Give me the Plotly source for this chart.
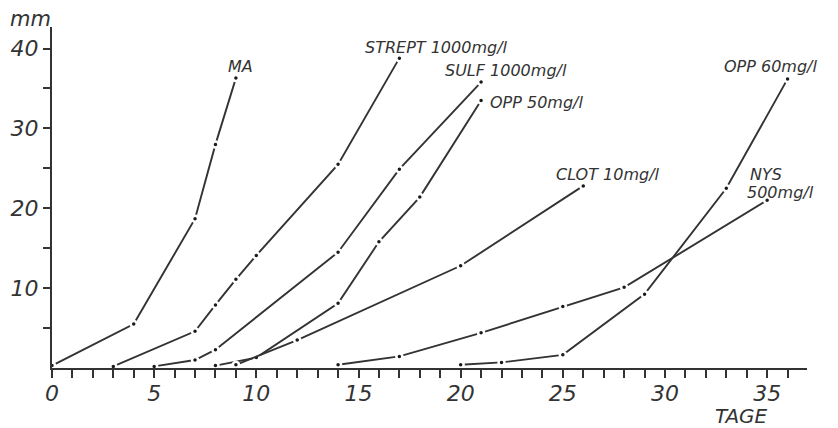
import plotly.graph_objects as go

# Days (TAGE) and growth in mm for each treatment
ma_days = [0, 4, 7, 8, 9]
ma_mm = [0.3, 5.5, 18.7, 28.0, 36.3]

strept_days = [3, 7, 8, 9, 10, 14, 17]
strept_mm = [0.2, 4.6, 7.9, 11.1, 14.1, 25.5, 38.8]

sulf_days = [5, 7, 8, 14, 17, 21]
sulf_mm = [0.2, 1.0, 2.3, 14.5, 24.9, 35.8]

opp50_days = [8, 10, 14, 16, 18, 21]
opp50_mm = [0.3, 1.3, 8.1, 15.8, 21.4, 33.5]

clot_days = [9, 12, 20, 26]
clot_mm = [0.4, 3.5, 12.8, 22.8]

nys_days = [14, 17, 21, 25, 28, 35]
nys_mm = [0.4, 1.45, 4.4, 7.7, 10.1, 21.0]

opp60_days = [20, 22, 25, 29, 33, 36]
opp60_mm = [0.4, 0.7, 1.65, 9.25, 22.5, 36.2]

series = [
    ("MA", ma_days, ma_mm),
    ("STREPT 1000mg/l", strept_days, strept_mm),
    ("SULF 1000mg/l", sulf_days, sulf_mm),
    ("OPP 50mg/l", opp50_days, opp50_mm),
    ("CLOT 10mg/l", clot_days, clot_mm),
    ("NYS 500mg/l", nys_days, nys_mm),
    ("OPP 60mg/l", opp60_days, opp60_mm),
]

x_ticks = list(range(0, 37))
x_ticklabels = [str(v) if v % 5 == 0 else "" for v in x_ticks]
y_ticks = [5, 10, 15, 20, 25, 30, 35, 40]
y_ticklabels = [str(v) if v % 10 == 0 else "" for v in y_ticks]

# label annotations: (text, x, y)
labels = [
    ("MA", 8.5, 37.7),
    ("STREPT 1000mg/l", 15.2, 40.1),
    ("SULF 1000mg/l", 19.13, 37.3),
    ("OPP 50mg/l", 21.35, 33.3),
    ("CLOT 10mg/l", 24.55, 24.2),
    ("OPP 60mg/l", 32.8, 37.8),
    ("NYS", 34.08, 24.2),
    ("500mg/l", 33.9, 21.95),
]

INK = "#333333"
FONT = "DejaVu Sans"

fig = go.Figure()
for name, xs, ys in series:
    fig.add_trace(go.Scatter(
        x=xs, y=ys, mode="lines+markers", name=name,
        line=dict(color="#333333", width=1.9),
        marker=dict(size=6, color="#1a1a1a", line=dict(color="white", width=2.5)),
        showlegend=False, cliponaxis=False,
    ))

for text, x, y in labels:
    fig.add_annotation(x=x, y=y, text=text, showarrow=False, xanchor="left", yanchor="middle",
                       font=dict(family=FONT, size=16, color=INK, style="italic"))

fig.add_annotation(xref="paper", yref="paper", x=0.9135, y=-0.1417, text="TAGE", showarrow=False,
                   xanchor="center", yanchor="middle",
                   font=dict(family=FONT, size=20, color=INK, style="italic"))
fig.add_annotation(xref="paper", yref="paper", x=-0.058, y=1.0226, text="mm", showarrow=False,
                   xanchor="left", yanchor="middle",
                   font=dict(family=FONT, size=21, color=INK, style="italic"))

fig.update_layout(
    width=830, height=420,
    margin=dict(l=44, r=31, t=19, b=60, autoexpand=False),
    paper_bgcolor="white", plot_bgcolor="white",
    xaxis=dict(range=[0, 36.95], tickmode="array", tickvals=x_ticks, ticktext=x_ticklabels,
               showgrid=False, zeroline=False, showline=True, linecolor=INK, linewidth=2,
               ticks="outside", ticklen=8, tickwidth=2, tickcolor=INK, automargin=False,
               ticklabelstandoff=-3,
               tickfont=dict(family=FONT, size=22, color=INK, style="italic")),
    yaxis=dict(range=[0, 42.7], tickmode="array", tickvals=y_ticks, ticktext=y_ticklabels,
               showgrid=False, zeroline=False, showline=True, linecolor=INK, linewidth=2,
               ticks="outside", ticklen=7, tickwidth=2, tickcolor=INK, automargin=False,
               tickfont=dict(family=FONT, size=22, color=INK, style="italic")),
)

fig.write_html("out.html")
